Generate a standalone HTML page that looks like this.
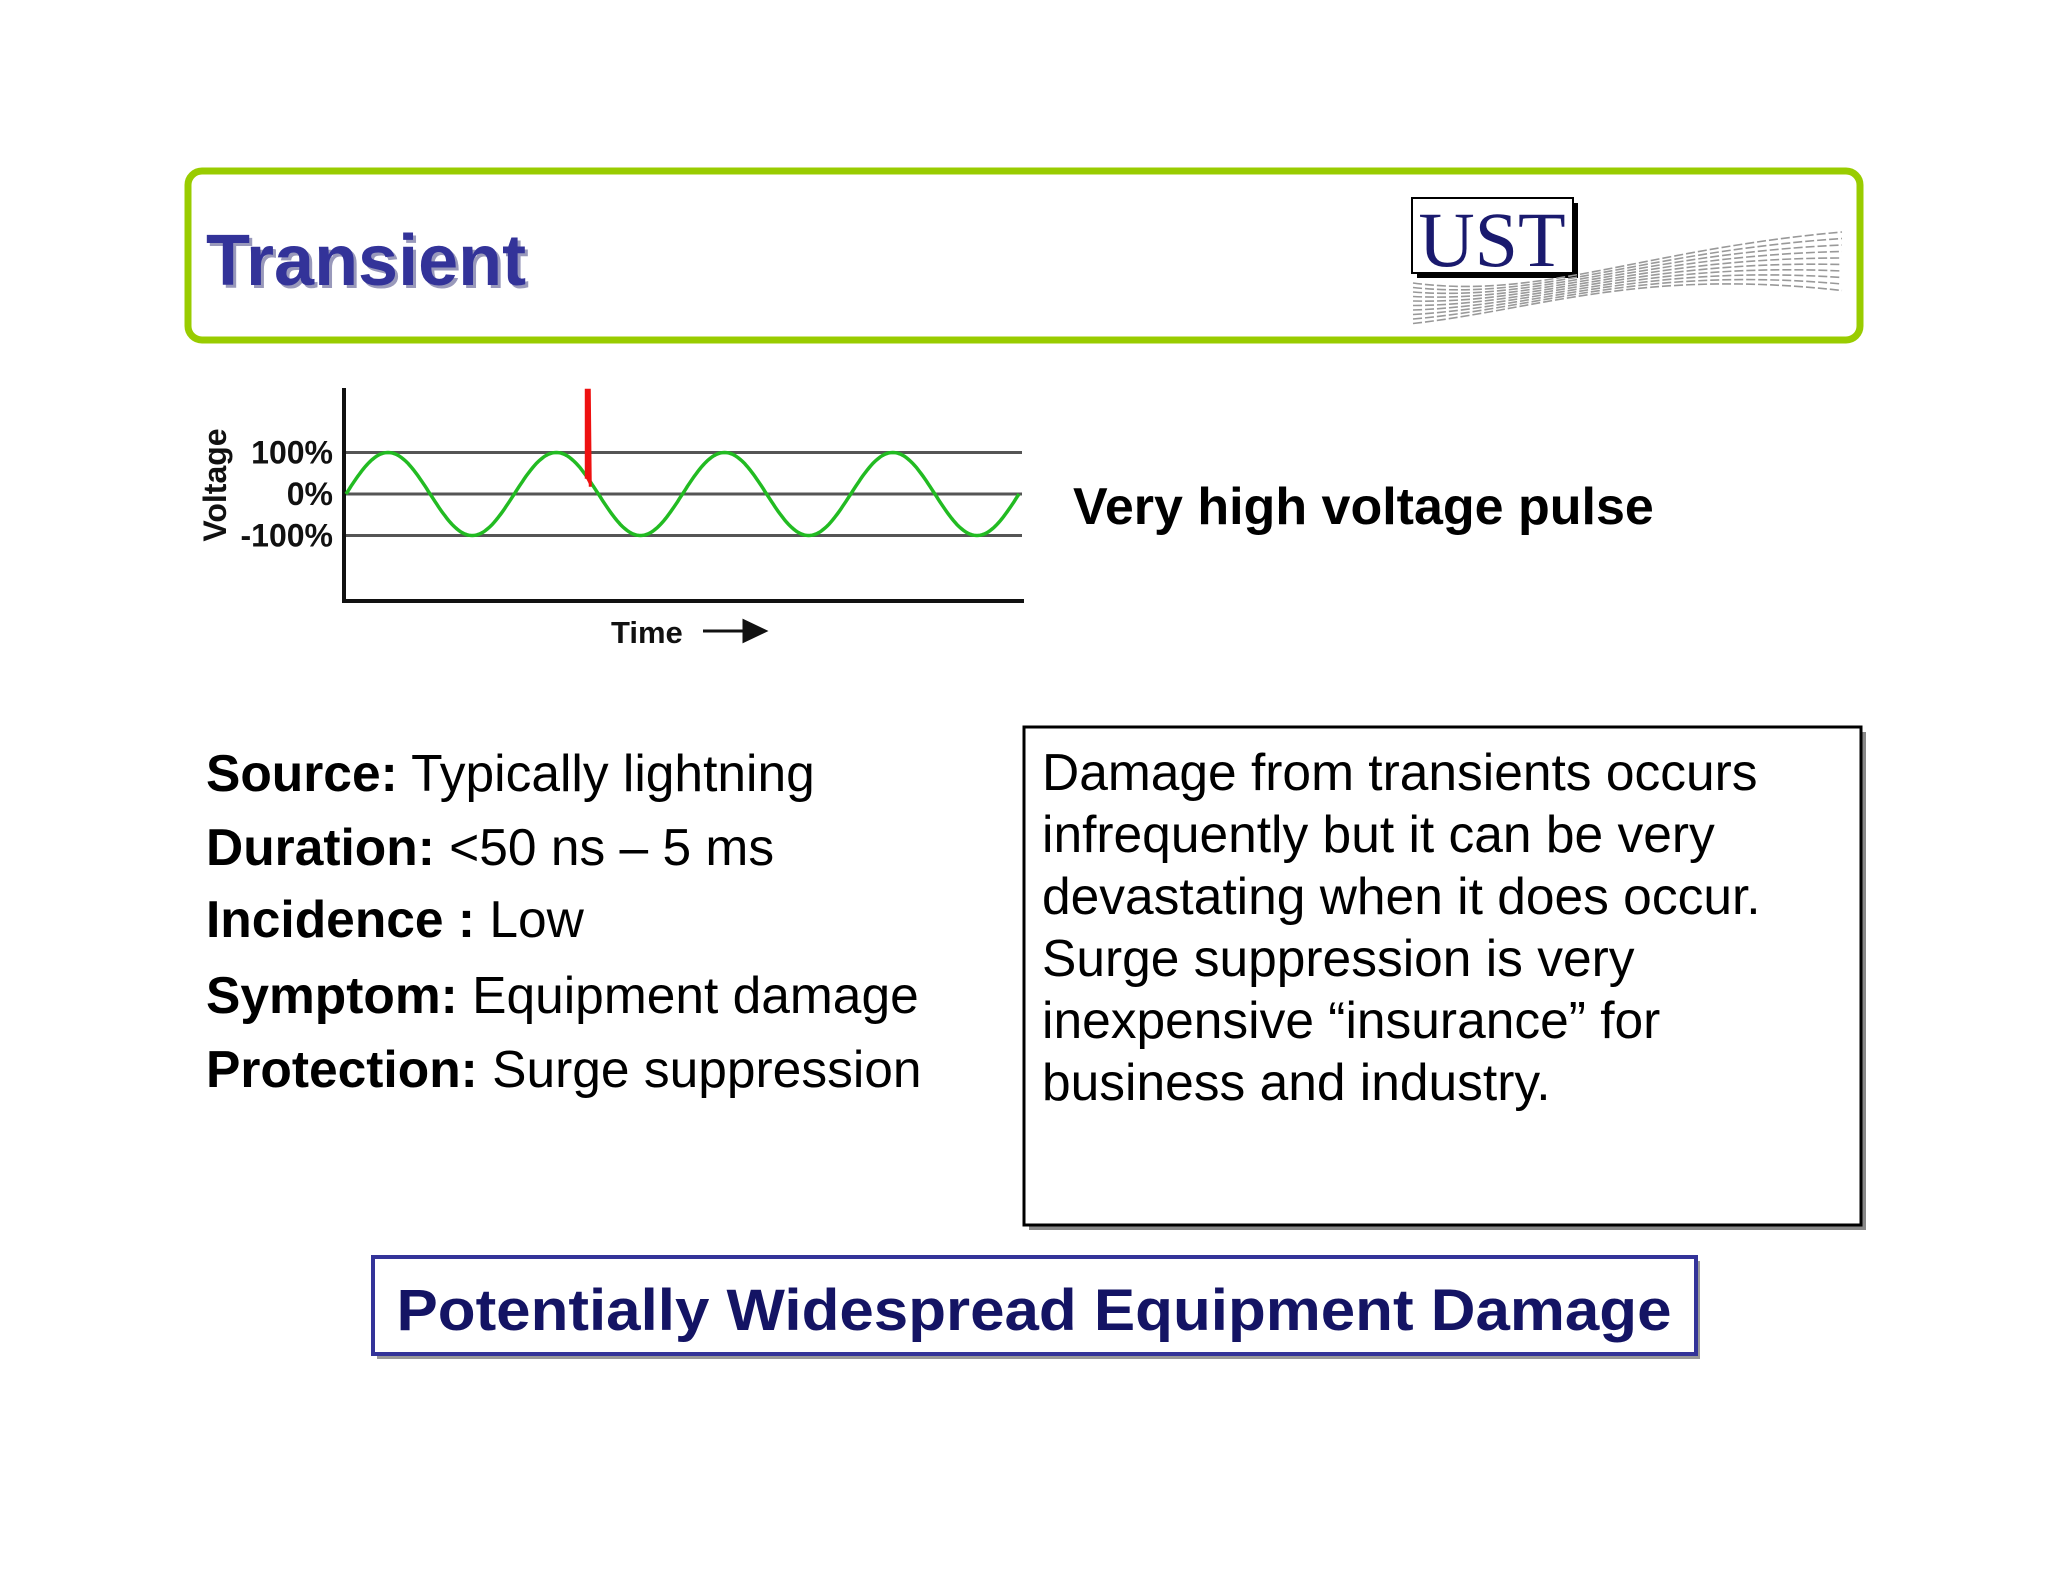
<!DOCTYPE html>
<html><head><meta charset="utf-8"><style>
html,body{margin:0;padding:0;background:#fff;}
svg{display:block;}
text{font-family:"Liberation Sans",Arial,sans-serif;}
</style></head><body>
<svg width="2048" height="1582" viewBox="0 0 2048 1582">
<rect x="0" y="0" width="2048" height="1582" fill="#fff"/>
<rect x="188" y="171" width="1672" height="169" rx="14" fill="none" stroke="#99cc00" stroke-width="7"/>
<text x="209" y="288" font-size="72" font-weight="bold" fill="#9999bb">Transient</text>
<text x="206" y="285" font-size="72" font-weight="bold" fill="#333399">Transient</text>
<g>
<rect x="1417" y="203" width="161" height="75" fill="#000"/>
<rect x="1412" y="198" width="161" height="75" fill="#fff" stroke="#000" stroke-width="2"/>
<text x="1492" y="266" font-size="78" fill="#1a1a6e" text-anchor="middle" style="font-family:'Liberation Serif',serif">UST</text>
<g id="waves" fill="none" stroke="#999" stroke-width="1.6" stroke-dasharray="9 3"></g>
</g>
<g id="chart"></g>
<text x="1073" y="524" font-size="52" font-weight="bold" fill="#000">Very high voltage pulse</text>
<g font-size="51.5" fill="#000">
<text x="206" y="791"><tspan font-weight="bold">Source:</tspan> Typically lightning</text>
<text x="206" y="865"><tspan font-weight="bold">Duration:</tspan> &lt;50 ns – 5 ms</text>
<text x="206" y="937"><tspan font-weight="bold">Incidence :</tspan> Low</text>
<text x="206" y="1013"><tspan font-weight="bold">Symptom:</tspan> Equipment damage</text>
<text x="206" y="1087"><tspan font-weight="bold">Protection:</tspan> Surge suppression</text>
</g>
<rect x="1029" y="732" width="837" height="498" fill="#888"/>
<rect x="1024" y="727" width="837" height="498" fill="#fff" stroke="#000" stroke-width="3"/>
<g font-size="51.5" fill="#000">
<text x="1042" y="790">Damage from transients occurs</text>
<text x="1042" y="852">infrequently but it can be very</text>
<text x="1042" y="914">devastating when it does occur.</text>
<text x="1042" y="976">Surge suppression is very</text>
<text x="1042" y="1038">inexpensive “insurance” for</text>
<text x="1042" y="1100">business and industry.</text>
</g>
<rect x="377" y="1261" width="1323" height="98" fill="#999"/>
<rect x="373" y="1257" width="1323" height="97" fill="#fff" stroke="#333399" stroke-width="4"/>
<text x="1034" y="1330" font-size="58" font-weight="bold" fill="#141464" text-anchor="middle" textLength="1275" lengthAdjust="spacingAndGlyphs">Potentially Widespread Equipment Damage</text>
</svg>
<script>
const refLevels=[100,0,-100];
const refLabels=["100%","0%","-100%"];
const cycles=[4];
const amplitude=[100];
const spikeAt=[1.44];
const spikeTop=[250];
const NS="http://www.w3.org/2000/svg";
const x0=346,x1=1019,yZero=494,yScale=0.415;
function X(c){return x0+(c/cycles[0])*(x1-x0);}
function Y(v){return yZero-v*yScale;}
const g=document.getElementById('chart');
function mk(t,a){const e=document.createElementNS(NS,t);for(const k in a)e.setAttribute(k,a[k]);g.appendChild(e);return e;}
refLevels.forEach((v,i)=>{
 const l=mk('line',{x1:344,x2:1022,y1:Y(v),y2:Y(v),stroke:'#555','stroke-width':3});
 
 
 const t=mk('text',{x:333,y:Y(v)+11,'font-size':32,'font-weight':'bold','text-anchor':'end',fill:'#111'});
 t.textContent=refLabels[i];
 
 
});
const ax=mk('path',{d:'M344 388 V601 H1024',fill:'none',stroke:'#111','stroke-width':4});


let d='';
for(let i=0;i<=400;i++){const c=i/400*cycles[0];d+=(i?'L':'M')+X(c).toFixed(1)+' '+Y(amplitude[0]*Math.sin(2*Math.PI*c)).toFixed(1);}
const w=mk('path',{d:d,fill:'none',stroke:'#22bb22','stroke-width':3.5});


const sx=X(spikeAt[0]);
const base=Y(amplitude[0]*Math.sin(2*Math.PI*spikeAt[0]));
const sp=mk('path',{d:`M${sx-2} ${base} L${sx-2} ${Y(spikeTop[0])} L${sx+1} ${Y(spikeTop[0])} L${sx+2} ${base+8}`,fill:'#ee1111',stroke:'#ee1111','stroke-width':3});


const vt=mk('text',{x:0,y:0,'font-size':32,'font-weight':'bold','text-anchor':'middle',fill:'#111',transform:'translate(226 485) rotate(-90)'});
vt.textContent='Voltage';


const tt=mk('text',{x:611,y:643,'font-size':31,'font-weight':'bold',fill:'#111'});
tt.textContent='Time';


const ar=mk('path',{d:'M703 631 H750 M744 621 L765 631 L744 641 Z',stroke:'#111','stroke-width':3,fill:'#111'});


const wg=document.getElementById('waves');
for(let k=0;k<10;k++){
 const e=document.createElementNS(NS,'path');
 e.setAttribute('d',`M1413 ${283+k*4.5} C1540 ${300+k*1} 1640 ${250+k*2} 1842 ${232+k*6.5}`);
 wg.appendChild(e);
}
</script>
</body></html>
